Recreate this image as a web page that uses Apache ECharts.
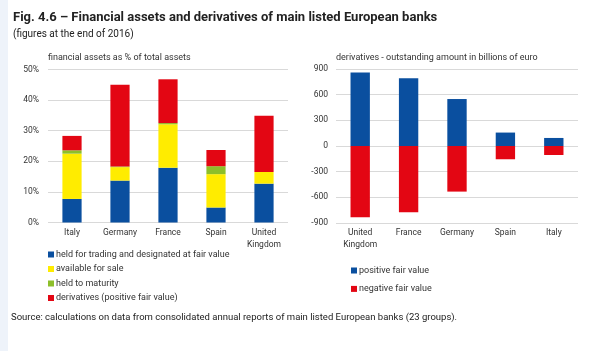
<!DOCTYPE html>
<html><head><meta charset="utf-8">
<script src="https://cdn.jsdelivr.net/npm/echarts@6/dist/echarts.min.js"></script>
<style>html,body{margin:0;padding:0;background:#fff}#c{width:600px;height:351px}</style>
</head><body><div id="c"></div>
<script>
const leftCategories = ['Italy', 'Germany', 'France', 'Spain', 'United\nKingdom'];
const heldForTrading = [7.7, 13.7, 17.9, 4.9, 12.7];
const availableForSale = [14.8, 4.4, 14.2, 10.9, 3.8];
const heldToMaturity = [1.1, 0.2, 0.4, 2.6, 0];
const derivativesPos = [4.7, 26.7, 14.3, 5.3, 18.4];

const rightCategories = ['United\nKingdom', 'France', 'Germany', 'Spain', 'Italy'];
const positiveFairValue = [858, 791, 549, 157, 94];
const negativeFairValue = [-833, -775, -533, -155, -105];

const FONT = 'Roboto';
const BLUE = '#0a4f9f', YELLOW = '#ffec00', GREEN = '#8dbf2a', RED = '#e30613';
const txt = '#333';
const chart = echarts.init(document.getElementById('c'), null, {renderer: 'canvas'});
const axisLabel = {color: txt, fontFamily: FONT, fontSize: 8.5};
chart.setOption({
  animation: false,
  textStyle: {fontFamily: FONT},
  graphic: [{type: 'rect', left: 0, top: 0, shape: {width: 8, height: 351}, style: {fill: '#eef3fa'}}],
  title: [
    {text: 'Fig. 4.6 – Financial assets and derivatives of main listed European banks', left: 8, top: 6,
     textStyle: {fontFamily: FONT, fontSize: 13, fontWeight: 'bold', color: '#222'}},
    {text: '(figures at the end of 2016)', left: 8, top: 24, textStyle: {fontFamily: FONT, fontSize: 10, fontWeight: 'normal', color: '#222'}},
    {text: 'financial assets as % of total assets', left: 43, top: 48, textStyle: {fontFamily: FONT, fontSize: 9, fontWeight: 'normal', color: txt}},
    {text: 'derivatives - outstanding amount in billions of euro', left: 331, top: 48, textStyle: {fontFamily: FONT, fontSize: 9, fontWeight: 'normal', color: txt}},
    {text: 'Source: calculations on data from consolidated annual reports of main listed European banks (23 groups).', left: 6, top: 308,
     textStyle: {fontFamily: FONT, fontSize: 9.5, fontWeight: 'normal', color: '#222'}}
  ],
  legend: [
    {orient: 'vertical', left: 43, top: 245, itemWidth: 6, itemHeight: 6, itemGap: 5.5, icon: 'rect',
     textStyle: {fontFamily: FONT, fontSize: 9, color: txt, padding: [0, 0, 0, -3]},
     data: ['held for trading and designated at fair value', 'available for sale', 'held to maturity', 'derivatives (positive fair value)']},
    {orient: 'vertical', left: 346, top: 261, itemWidth: 6, itemHeight: 6, itemGap: 9.4, icon: 'rect',
     textStyle: {fontFamily: FONT, fontSize: 9, color: txt, padding: [0, 0, 0, -3]},
     data: ['positive fair value', 'negative fair value']}
  ],
  grid: [
    {left: 48, top: 69.5, width: 240, height: 153},
    {left: 336, top: 69, width: 242, height: 154}
  ],
  xAxis: [
    {type: 'category', gridIndex: 0, data: leftCategories, axisLine: {show: false}, axisTick: {show: false},
     axisLabel: Object.assign({margin: 4, lineHeight: 12}, axisLabel)},
    {type: 'category', gridIndex: 1, data: rightCategories, axisLine: {show: false}, axisTick: {show: false},
     axisLabel: Object.assign({margin: 4, lineHeight: 12}, axisLabel)}
  ],
  yAxis: [
    {type: 'value', gridIndex: 0, min: 0, max: 50, interval: 10, axisLabel: Object.assign({formatter: '{value}%', margin: 9}, axisLabel),
     splitLine: {lineStyle: {color: '#d9d9d9'}}, axisLine: {show: false}, axisTick: {show: false}},
    {type: 'value', gridIndex: 1, min: -900, max: 900, interval: 300, axisLabel: Object.assign({margin: 8}, axisLabel),
     splitLine: {lineStyle: {color: '#d9d9d9'}}, axisLine: {show: false}, axisTick: {show: false}}
  ],
  series: [
    {name: 'held for trading and designated at fair value', type: 'bar', stack: 'l', barWidth: '40%', xAxisIndex: 0, yAxisIndex: 0, itemStyle: {color: BLUE}, data: heldForTrading},
    {name: 'available for sale', type: 'bar', stack: 'l', xAxisIndex: 0, yAxisIndex: 0, itemStyle: {color: YELLOW}, data: availableForSale},
    {name: 'held to maturity', type: 'bar', stack: 'l', xAxisIndex: 0, yAxisIndex: 0, itemStyle: {color: GREEN}, data: heldToMaturity},
    {name: 'derivatives (positive fair value)', type: 'bar', stack: 'l', xAxisIndex: 0, yAxisIndex: 0, itemStyle: {color: RED}, data: derivativesPos},
    {name: 'positive fair value', type: 'bar', stack: 'r', barWidth: '40%', xAxisIndex: 1, yAxisIndex: 1, itemStyle: {color: BLUE}, data: positiveFairValue},
    {name: 'negative fair value', type: 'bar', stack: 'r', xAxisIndex: 1, yAxisIndex: 1, itemStyle: {color: RED}, data: negativeFairValue}
  ]
});
</script></body></html>
